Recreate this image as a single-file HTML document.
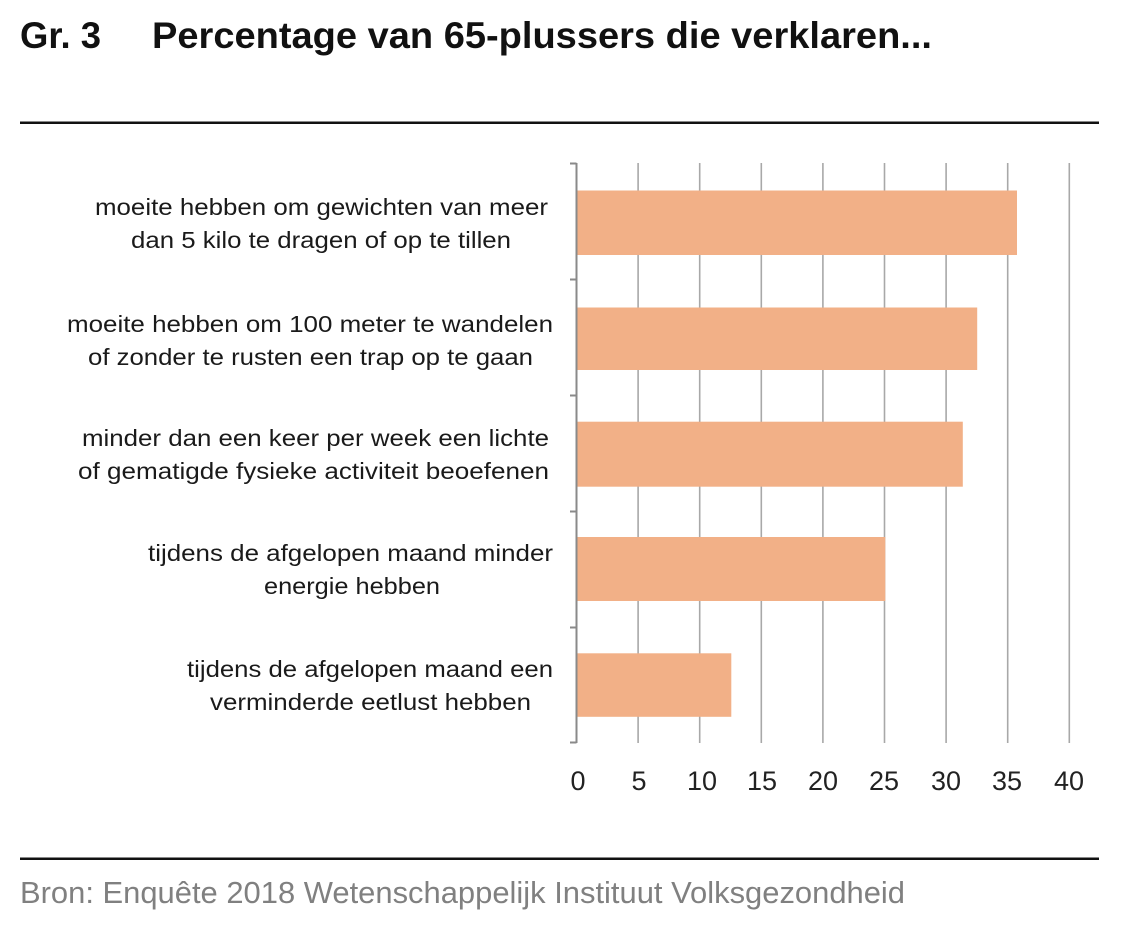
<!DOCTYPE html>
<html>
<head>
<meta charset="utf-8">
<style>
html,body{margin:0;padding:0;background:#fff;}
svg{display:block;}
text{font-family:"Liberation Sans",sans-serif;}
</style>
</head>
<body>
<svg width="1122" height="930" viewBox="0 0 1122 930" xmlns="http://www.w3.org/2000/svg">
<rect width="1122" height="930" fill="#fff"/>
<!-- Title -->
<text x="20" y="48" font-size="37" font-weight="bold" fill="#111" textLength="81" lengthAdjust="spacingAndGlyphs">Gr. 3</text>
<text x="152" y="48" font-size="37" font-weight="bold" fill="#111" textLength="780" lengthAdjust="spacingAndGlyphs">Percentage van 65-plussers die verklaren...</text>
<rect x="20" y="121.5" width="1079" height="2.5" fill="#111"/>

<!-- gridlines -->
<g stroke="#a8a8a8" stroke-width="1.6">
<line x1="638.1" y1="163" x2="638.1" y2="743"/>
<line x1="699.7" y1="163" x2="699.7" y2="743"/>
<line x1="761.3" y1="163" x2="761.3" y2="743"/>
<line x1="822.9" y1="163" x2="822.9" y2="743"/>
<line x1="884.5" y1="163" x2="884.5" y2="743"/>
<line x1="946.1" y1="163" x2="946.1" y2="743"/>
<line x1="1007.7" y1="163" x2="1007.7" y2="743"/>
<line x1="1069.3" y1="163" x2="1069.3" y2="743"/>
</g>

<!-- bars -->
<g fill="#F2B087">
<rect x="577" y="190.5" width="440" height="64.5"/>
<rect x="577" y="307.5" width="400.2" height="62.5"/>
<rect x="577" y="421.7" width="385.8" height="65"/>
<rect x="577" y="537" width="308.3" height="64"/>
<rect x="577" y="653.3" width="154.3" height="63.5"/>
</g>

<!-- axis -->
<g stroke="#8a8a8a" stroke-width="2" fill="none">
<line x1="576.5" y1="163" x2="576.5" y2="743"/>
<line x1="570" y1="163.5" x2="576.5" y2="163.5"/>
<line x1="570" y1="279.5" x2="576.5" y2="279.5"/>
<line x1="570" y1="395.5" x2="576.5" y2="395.5"/>
<line x1="570" y1="511.5" x2="576.5" y2="511.5"/>
<line x1="570" y1="627.5" x2="576.5" y2="627.5"/>
<line x1="570" y1="742.5" x2="576.5" y2="742.5"/>
</g>

<!-- x tick labels -->
<g font-size="27" fill="#222" text-anchor="middle">
<text x="578" y="790">0</text>
<text x="639" y="790">5</text>
<text x="702" y="790">10</text>
<text x="762" y="790">15</text>
<text x="823" y="790">20</text>
<text x="884" y="790">25</text>
<text x="946" y="790">30</text>
<text x="1007" y="790">35</text>
<text x="1069" y="790">40</text>
</g>

<!-- category labels -->
<g font-size="23" fill="#1a1a1a">
<text x="95" y="215" textLength="453" lengthAdjust="spacingAndGlyphs">moeite hebben om gewichten van meer</text>
<text x="131" y="248" textLength="380" lengthAdjust="spacingAndGlyphs">dan 5 kilo te dragen of op te tillen</text>
<text x="67" y="332" textLength="486" lengthAdjust="spacingAndGlyphs">moeite hebben om 100 meter te wandelen</text>
<text x="88" y="365" textLength="445" lengthAdjust="spacingAndGlyphs">of zonder te rusten een trap op te gaan</text>
<text x="82" y="446" textLength="467" lengthAdjust="spacingAndGlyphs">minder dan een keer per week een lichte</text>
<text x="78" y="479" textLength="471" lengthAdjust="spacingAndGlyphs">of gematigde fysieke activiteit beoefenen</text>
<text x="148" y="561" textLength="405" lengthAdjust="spacingAndGlyphs">tijdens de afgelopen maand minder</text>
<text x="264" y="594" textLength="176" lengthAdjust="spacingAndGlyphs">energie hebben</text>
<text x="187" y="677" textLength="366" lengthAdjust="spacingAndGlyphs">tijdens de afgelopen maand een</text>
<text x="210" y="710" textLength="321" lengthAdjust="spacingAndGlyphs">verminderde eetlust hebben</text>
</g>

<!-- bottom rule and source -->
<rect x="20" y="857.5" width="1079" height="2.5" fill="#111"/>
<text x="20" y="903" font-size="31" fill="#808080" textLength="885" lengthAdjust="spacingAndGlyphs">Bron: Enquête 2018 Wetenschappelijk Instituut Volksgezondheid</text>
</svg>
</body>
</html>
